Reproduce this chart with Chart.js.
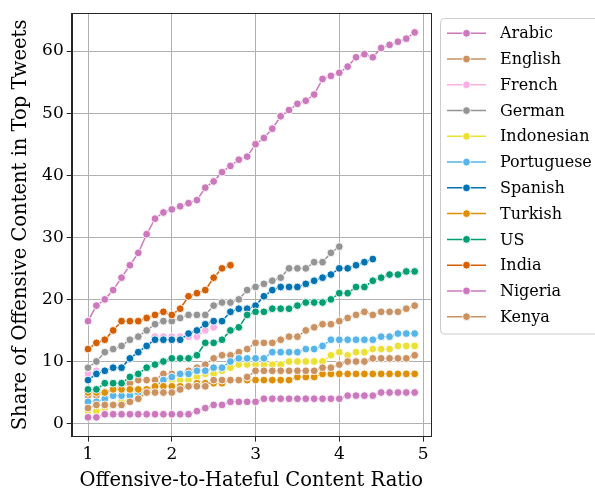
<!DOCTYPE html>
<html>
<head>
<meta charset="utf-8">
<script src="https://cdn.jsdelivr.net/npm/chart.js@4.4.1/dist/chart.umd.min.js"></script>
<style>
  html, body { margin: 0; padding: 0; background: #fff; }
  canvas { display: block; }
</style>
</head>
<body>
<canvas id="grafica" width="595" height="497"></canvas>
<script>
// Ratio values on the x axis (0.1 steps)
const ratios = [1.0, 1.1, 1.2, 1.3, 1.4, 1.5, 1.6, 1.7, 1.8, 1.9,
  2.0, 2.1, 2.2, 2.3, 2.4, 2.5, 2.6, 2.7, 2.8, 2.9,
  3.0, 3.1, 3.2, 3.3, 3.4, 3.5, 3.6, 3.7, 3.8, 3.9,
  4.0, 4.1, 4.2, 4.3, 4.4, 4.5, 4.6, 4.7, 4.8, 4.9];

const arabic = [16.5, 19.0, 20.0, 21.5, 23.5, 25.5, 27.5, 30.5, 33.0, 34.0,
  34.5, 35.0, 35.5, 36.0, 38.0, 39.0, 40.5, 41.5, 42.5, 43.0,
  45.0, 46.0, 47.5, 49.5, 50.5, 51.5, 52.0, 53.0, 55.5, 56.0,
  56.5, 57.5, 59.0, 59.5, 59.0, 60.5, 61.0, 61.5, 62.0, 63.0];
const english = [4.5, 4.5, 5.0, 5.5, 6.0, 6.5, 7.0, 7.0, 7.0, 8.0,
  8.0, 8.0, 8.5, 9.0, 9.5, 10.5, 11.0, 11.0, 11.5, 12.0,
  13.0, 13.0, 13.0, 13.5, 14.0, 14.0, 15.0, 15.5, 16.0, 16.0,
  16.5, 17.0, 17.5, 18.0, 17.5, 18.0, 18.0, 18.0, 18.5, 19.0];
const french = [8.0, 8.5, 8.5, 9.0, 9.0, 10.5, 11.5, 12.5, 14.0, 14.0,
  14.0, 14.0, 14.0, 14.0, 15.0, 15.5];
const german = [9.0, 10.0, 11.5, 12.0, 12.5, 13.5, 14.0, 15.0, 16.0, 16.5,
  16.5, 17.0, 17.5, 17.5, 17.5, 19.0, 19.5, 19.5, 20.0, 21.5,
  22.0, 22.5, 23.0, 23.5, 25.0, 25.0, 25.0, 26.0, 26.0, 27.5,
  28.5];
const indonesian = [2.0, 2.0, 2.5, 3.0, 3.5, 4.0, 4.5, 5.0, 5.5, 6.5,
  7.0, 7.0, 7.0, 7.5, 8.0, 8.0, 8.5, 9.0, 9.5, 9.5,
  9.5, 9.5, 9.5, 9.5, 10.0, 10.0, 10.0, 10.0, 10.0, 11.0,
  11.5, 11.0, 11.5, 11.5, 12.0, 12.0, 12.0, 12.5, 12.5, 12.5];
const portuguese = [3.5, 3.5, 4.0, 4.5, 4.5, 4.5, 5.0, 5.5, 6.0, 7.0,
  7.5, 8.0, 8.0, 8.5, 8.5, 9.0, 9.0, 10.0, 10.5, 10.5,
  10.5, 10.5, 11.5, 11.5, 11.5, 11.5, 12.0, 12.0, 12.5, 13.5,
  13.5, 13.5, 13.5, 13.5, 13.5, 14.0, 14.0, 14.5, 14.5, 14.5];
const spanish = [7.0, 8.0, 8.5, 9.0, 9.0, 10.5, 11.5, 12.5, 13.5, 13.5,
  13.5, 13.5, 14.5, 15.0, 16.0, 16.5, 16.5, 18.0, 18.5, 18.5,
  19.0, 20.5, 21.5, 22.0, 22.0, 22.0, 22.5, 23.0, 23.5, 24.0,
  25.0, 25.0, 25.5, 26.0, 26.5];
const turkish = [5.0, 5.0, 5.0, 5.5, 5.5, 5.5, 5.5, 5.5, 6.0, 6.0,
  6.0, 6.0, 6.0, 6.5, 6.5, 6.5, 6.5, 7.0, 7.0, 7.0,
  7.0, 7.0, 7.0, 7.0, 7.0, 7.5, 7.5, 7.5, 8.0, 8.0,
  8.0, 8.0, 8.0, 8.0, 8.0, 8.0, 8.0, 8.0, 8.0, 8.0];
const us = [5.5, 5.5, 6.5, 6.5, 6.5, 7.5, 8.0, 9.0, 9.5, 10.0,
  10.5, 10.5, 10.5, 11.0, 13.0, 13.0, 13.5, 15.0, 15.5, 17.5,
  18.0, 18.0, 18.5, 18.5, 18.5, 19.0, 19.5, 19.5, 19.5, 20.0,
  21.0, 21.0, 22.0, 22.0, 23.0, 23.5, 24.0, 24.0, 24.5, 24.5];
const india = [12.0, 13.0, 13.5, 15.0, 16.5, 16.5, 16.5, 17.0, 17.5, 18.0,
  17.5, 18.5, 20.5, 21.0, 21.5, 23.5, 25.0, 25.5];
const nigeria = [1.0, 1.0, 1.5, 1.5, 1.5, 1.5, 1.5, 1.5, 1.5, 1.5,
  1.5, 1.5, 1.5, 2.0, 2.5, 3.0, 3.0, 3.5, 3.5, 3.5,
  3.5, 4.0, 4.0, 4.0, 4.0, 4.0, 4.0, 4.0, 4.0, 4.0,
  4.0, 4.5, 4.5, 4.5, 4.5, 5.0, 5.0, 5.0, 5.0, 5.0];
const kenya = [2.5, 3.0, 3.0, 3.0, 3.0, 3.5, 4.0, 5.0, 5.0, 5.0,
  5.0, 5.5, 6.0, 6.0, 6.0, 7.0, 7.0, 7.0, 7.0, 7.5,
  8.5, 8.5, 8.5, 8.5, 8.5, 8.5, 8.5, 8.5, 9.0, 9.0,
  9.5, 10.0, 10.0, 10.0, 10.5, 10.5, 10.5, 10.5, 10.5, 11.0];

const series = [
  ['Arabic', arabic, '#cc78bc'],
  ['English', english, '#ca9161'],
  ['French', french, '#fbafe4'],
  ['German', german, '#949494'],
  ['Indonesian', indonesian, '#ece133'],
  ['Portuguese', portuguese, '#56b4e9'],
  ['Spanish', spanish, '#0173b2'],
  ['Turkish', turkish, '#de8f05'],
  ['US', us, '#029e73'],
  ['India', india, '#d55e00'],
  ['Nigeria', nigeria, '#cc78bc'],
  ['Kenya', kenya, '#ca9161']
];

const xTicks = [1, 2, 3, 4, 5];
const yTicks = [0, 10, 20, 30, 40, 50, 60];

const fuente = 'DejaVu Serif';

// márgenes del 5% como matplotlib
const todos = series.flatMap((s) => s[1]);
const yMin = Math.min(...todos), yMax = Math.max(...todos);
const xMin = ratios[0], xMax = ratios[ratios.length - 1];
const mx = (xMax - xMin) * 0.05, my = (yMax - yMin) * 0.05;

const datasets = series.map(([nombre, valores, color], i) => ({
  label: nombre,
  data: valores.map((v, j) => ({ x: ratios[j], y: v })),
  borderColor: color,
  backgroundColor: color,
  borderWidth: 1.5,
  pointRadius: 3.9,
  pointBorderColor: '#ffffff',
  pointBorderWidth: 0.9,
  pointBackgroundColor: color,
  tension: 0,
  order: series.length - i
}));

// marco completo alrededor del área de la gráfica
const marco = {
  id: 'marco',
  afterDatasetsDraw(chart) {
    const { ctx, chartArea: a } = chart;
    ctx.save();
    ctx.strokeStyle = '#262626';
    ctx.lineWidth = 1;
    ctx.strokeRect(Math.round(a.left) + 0.5, Math.round(a.top) + 0.5,
      Math.round(a.right - a.left), Math.round(a.bottom - a.top));
    ctx.restore();
  }
};

// leyenda dibujada a la derecha
const leyenda = {
  id: 'leyenda',
  afterDraw(chart) {
    const { ctx } = chart;
    const x0 = 440.5, y0 = 18.5, alto = 315.5;
    ctx.save();
    ctx.beginPath();
    ctx.roundRect(x0, y0, 200, alto, 4);
    ctx.fillStyle = 'rgba(255,255,255,0.8)';
    ctx.fill();
    ctx.strokeStyle = '#cccccc';
    ctx.lineWidth = 1;
    ctx.stroke();
    ctx.font = '16px "' + fuente + '"';
    ctx.textBaseline = 'middle';
    chart.data.datasets.forEach((ds, i) => {
      const y = 33.3 + i * 25.76;
      ctx.strokeStyle = ds.borderColor;
      ctx.lineWidth = 1.5;
      ctx.beginPath();
      ctx.moveTo(447, y);
      ctx.lineTo(486, y);
      ctx.stroke();
      ctx.beginPath();
      ctx.arc(466.5, y, 3.9, 0, Math.PI * 2);
      ctx.fillStyle = ds.borderColor;
      ctx.fill();
      ctx.strokeStyle = '#ffffff';
      ctx.lineWidth = 0.9;
      ctx.stroke();
      ctx.fillStyle = '#000000';
      ctx.fillText(ds.label, 500, y + 1);
    });
    ctx.restore();
  }
};

new Chart(document.getElementById('grafica'), {
  type: 'line',
  data: { datasets },
  plugins: [marco, leyenda],
  options: {
    responsive: false,
    animation: false,
    layout: { padding: { left: 0, top: 9, right: 164, bottom: 0 } },
    plugins: {
      legend: { display: false },
      tooltip: { enabled: false }
    },
    scales: {
      x: {
        type: 'linear',
        min: xMin - mx,
        max: xMax + mx,
        afterBuildTicks: (s) => { s.ticks = xTicks.map((v) => ({ value: v })); },
        afterFit: (s) => { s.height = 60.4; },
        grid: { color: '#b0b0b0', lineWidth: 1, tickLength: 5, tickColor: '#262626', tickWidth: 1 },
        border: { color: '#262626', width: 1 },
        ticks: { color: '#000', padding: 3, maxRotation: 0, font: { family: fuente, size: 17 } },
        title: {
          display: true,
          text: 'Offensive-to-Hateful Content Ratio',
          color: '#000',
          font: { family: fuente, size: 19.5 },
          padding: { top: 0, bottom: 4 }
        }
      },
      y: {
        type: 'linear',
        min: yMin - my,
        max: yMax + my,
        afterBuildTicks: (s) => { s.ticks = yTicks.map((v) => ({ value: v })); },
        afterFit: (s) => { s.width = 71.7; },
        grid: { color: '#b0b0b0', lineWidth: 1, tickLength: 5, tickColor: '#262626', tickWidth: 1 },
        border: { color: '#262626', width: 1 },
        ticks: { color: '#000', padding: 3, font: { family: fuente, size: 17 } },
        title: {
          display: true,
          text: 'Share of Offensive Content in Top Tweets',
          color: '#000',
          font: { family: fuente, size: 19.5 },
          padding: { top: 9, bottom: 0 }
        }
      }
    }
  }
});
</script>
</body>
</html>
